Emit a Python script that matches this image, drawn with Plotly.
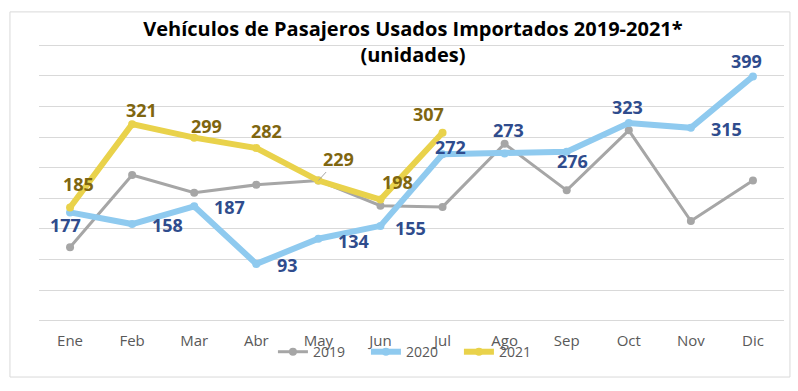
import plotly.graph_objects as go

months = ["Ene", "Feb", "Mar", "Abr", "May", "Jun", "Jul", "Ago", "Sep", "Oct", "Nov", "Dic"]
v2019 = [120, 238, 209, 222, 229, 188, 186, 289, 213, 311, 163, 229]
v2020 = [177, 158, 187, 93, 134, 155, 272, 273, 276, 323, 315, 399]
v2021 = [185, 321, 299, 282, 229, 198, 307]

# label offsets (pixels) for data labels
off2020 = [(-5, -13), (35, -1), (35, -1), (31, -1), (35, -2), (30, -2),
           (8, 7), (4, 24), (6, -9), (-1, 16), (36, -1), (-6, 15)]
off2021 = [(8, 24), (9, 14), (12, 12), (10, 17), (20, 22), (17, 18), (-14, 19)]

C19, C20, C21 = "#A6A6A6", "#8FCAEF", "#E9D24B"
L20, L21 = "#2F4C8D", "#7F6610"
FONT = "Open Sans"

fig = go.Figure()
fig.add_trace(go.Scatter(x=months, y=v2019, name="2019", mode="lines+markers",
                         line=dict(color=C19, width=3), marker=dict(size=8, color=C19)))
fig.add_trace(go.Scatter(x=months, y=v2020, name="2020", mode="lines+markers",
                         line=dict(color=C20, width=6), marker=dict(size=8, color=C20)))
fig.add_trace(go.Scatter(x=months[:len(v2021)], y=v2021, name="2021", mode="lines+markers",
                         line=dict(color=C21, width=6), marker=dict(size=8, color=C21)))

ann = []
for m, v, (dx, dy) in zip(months, v2020, off2020):
    ann.append(dict(x=m, y=v, text=f"<b>{v}</b>", showarrow=False, xshift=dx, yshift=dy,
                    font=dict(family=FONT, size=18, color=L20)))
for m, v, (dx, dy) in zip(months, v2021, off2021):
    if m == "May":
        ann.append(dict(x=m, y=v, text=f"<b>{v}</b>", showarrow=True, arrowhead=0,
                        arrowwidth=1, arrowcolor="#A6A6A6", ax=dx, ay=-dy, standoff=0,
                        font=dict(family=FONT, size=18, color=L21)))
    else:
        ann.append(dict(x=m, y=v, text=f"<b>{v}</b>", showarrow=False, xshift=dx, yshift=dy,
                        font=dict(family=FONT, size=18, color=L21)))

fig.update_layout(
    width=798, height=391,
    margin=dict(l=39, r=14, t=43, b=68),
    paper_bgcolor="white", plot_bgcolor="white",
    font=dict(family=FONT, color="#595959", size=14),
    title=dict(text="<b>Vehículos de Pasajeros Usados Importados 2019-2021*<br>(unidades)</b>",
               x=0.502, xref="paper", xanchor="center", y=0.909, yanchor="top",
               font=dict(family=FONT, size=20, color="black")),
    showlegend=True,
    legend=dict(orientation="h", x=0.314, xanchor="left", y=-0.104, yanchor="middle",
                entrywidth=48, entrywidthmode="pixels",
                font=dict(family=FONT, size=14, color="#595959"), bgcolor="rgba(0,0,0,0)"),
    annotations=ann,
    shapes=[dict(type="rect", xref="paper", yref="paper", x0=-0.039, x1=1.008,
                 y0=-0.193, y1=1.111, line=dict(color="#D9D9D9", width=1), layer="below")],
)
fig.update_xaxes(range=[-0.5, 11.5], showgrid=False, showline=False, ticks="",
                 ticklabelstandoff=7, tickfont=dict(size=15, color="#595959"))
fig.update_yaxes(range=[-3.5, 453.5], dtick=50, showticklabels=False, gridcolor="#D9D9D9",
                 gridwidth=1, zeroline=True, zerolinecolor="#D9D9D9", zerolinewidth=1,
                 showline=False)

fig.write_html("out.html", config={"displayModeBar": False},
               post_script="document.body.style.margin='0px';")
